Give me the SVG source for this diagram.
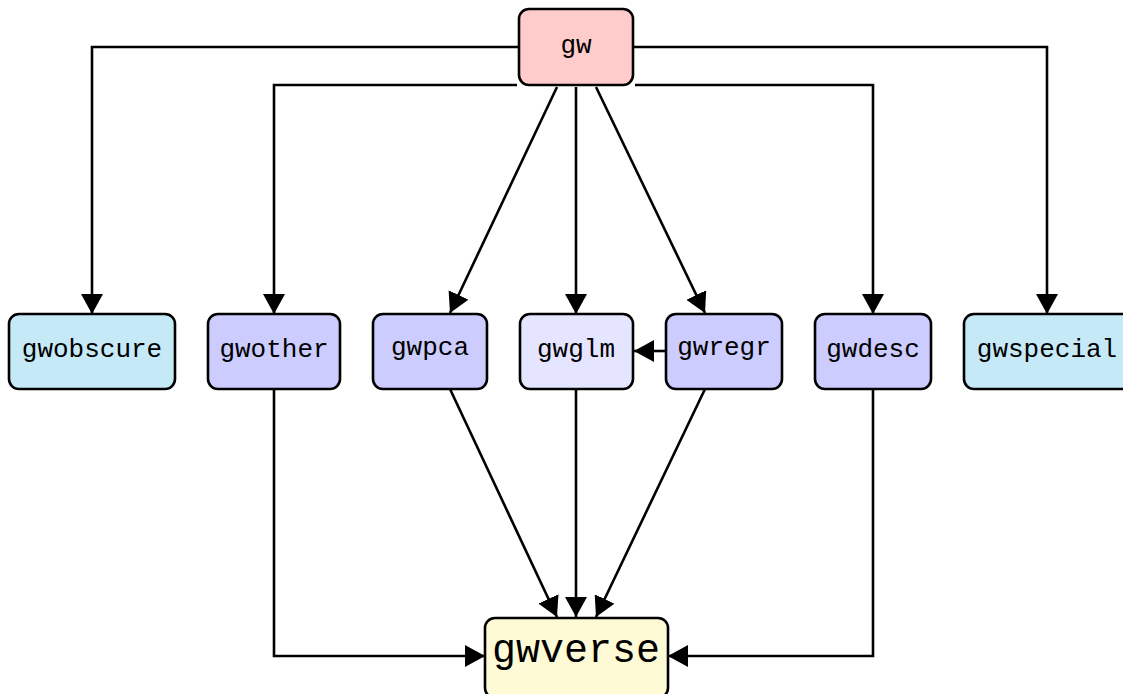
<svg xmlns="http://www.w3.org/2000/svg" width="1123" height="694" viewBox="0 0 1123 694">
<defs>
<marker id="arr" markerUnits="userSpaceOnUse" markerWidth="22" markerHeight="22" refX="20" refY="11" orient="auto">
<path d="M0,0 L20,11 L0,22 z" fill="#000"/>
</marker>
<style>
.n rect{stroke:#000;stroke-width:2.6}
.n text{font-family:"Liberation Mono","DejaVu Sans Mono",monospace;font-size:26px;text-anchor:middle;dominant-baseline:central;fill:#000}
.c path{fill:none;stroke:#000;stroke-width:2.6;marker-end:url(#arr)}
</style>
</defs>
<rect width="1123" height="694" fill="#fff"/>
<g id="connectors" class="c">
<path d="M519,47 H92 V314"/>
<path d="M633,47 H1047 V314"/>
<path d="M517,85 H274 V314"/>
<path d="M635,85 H873 V314"/>
<path d="M557,87 L450,313"/>
<path d="M576,87 V314"/>
<path d="M596,87 L705,313"/>
<path d="M666,351 H634"/>
<path d="M274,389 V656 H485"/>
<path d="M873,389 V656 H668"/>
<path d="M450,389 L557,617"/>
<path d="M576,389 V617"/>
<path d="M705,389 L596,617"/>
</g>
<g id="gw" class="n"><rect x="519" y="9" width="114" height="76" rx="10" fill="#ffcccc"/><text x="576" y="46">gw</text></g>
<g id="gwobscure" class="n"><rect x="9" y="314" width="166" height="75" rx="10" fill="#c6e9f8"/><text x="92" y="350">gwobscure</text></g>
<g id="gwother" class="n"><rect x="208" y="314" width="132" height="75" rx="10" fill="#ccccff"/><text x="274" y="350">gwother</text></g>
<g id="gwpca" class="n"><rect x="373" y="314" width="114" height="75" rx="10" fill="#ccccff"/><text x="430" y="348">gwpca</text></g>
<g id="gwglm" class="n"><rect x="520" y="314" width="113" height="75" rx="10" fill="#e5e5ff"/><text x="576" y="350">gwglm</text></g>
<g id="gwregr" class="n"><rect x="666" y="314" width="116" height="75" rx="10" fill="#ccccff"/><text x="724" y="348">gwregr</text></g>
<g id="gwdesc" class="n"><rect x="815" y="314" width="116" height="75" rx="10" fill="#ccccff"/><text x="873" y="350">gwdesc</text></g>
<g id="gwspecial" class="n"><rect x="964" y="314" width="170" height="75" rx="10" fill="#c6e9f8"/><text x="1047" y="350">gwspecial</text></g>
<g id="gwverse" class="n"><rect x="485" y="618" width="183" height="80" rx="10" fill="#fffad6"/><text x="576" y="651" style="font-size:40px">gwverse</text></g>
</svg>
